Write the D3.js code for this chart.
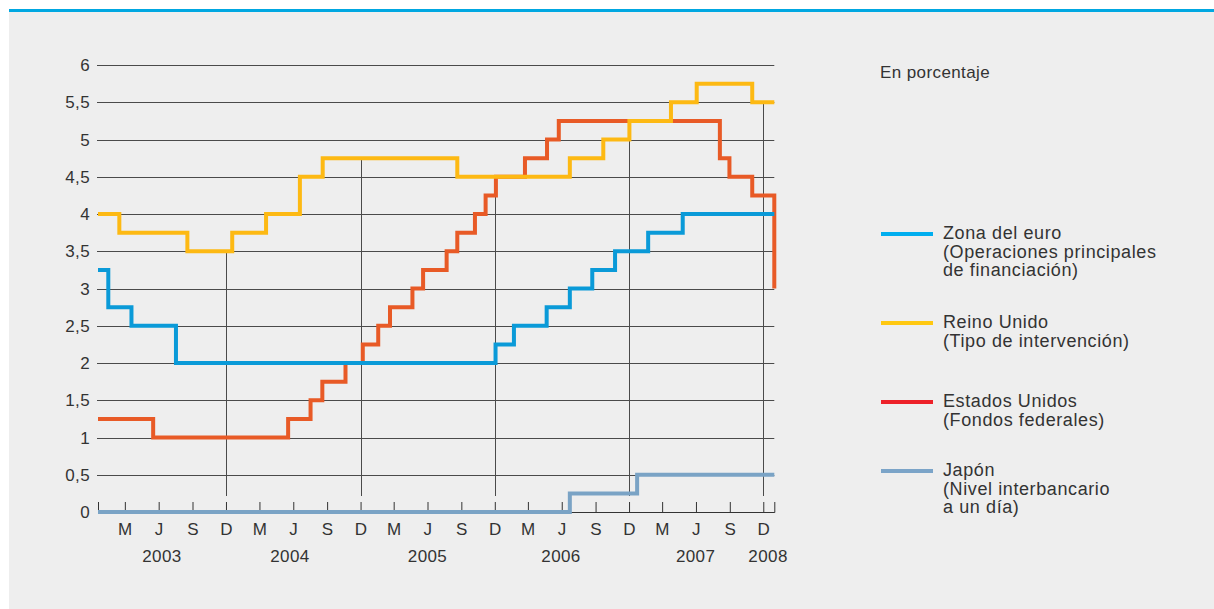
<!DOCTYPE html>
<html>
<head>
<meta charset="utf-8">
<script src="https://cdn.jsdelivr.net/npm/d3@7"></script>
<style>
  body { margin: 0; background: #fff; }
  svg text { font-family: "Liberation Sans", Arial, sans-serif; fill: #333; }
</style>
</head>
<body>
<div id="chart"></div>
<script>
// policy rates, step changes
const euroDates = ["2003-01-01", "2003-01-29", "2003-04-02", "2003-08-01", "2005-12-17", "2006-02-05", "2006-05-05", "2006-07-07", "2006-09-06", "2006-11-07", "2007-02-05", "2007-05-10", "2008-01-14"];
const euroRates = [3.25, 2.75, 2.5, 2.0, 2.25, 2.5, 2.75, 3.0, 3.25, 3.5, 3.75, 4.0, 4.0];

const ukDates = ["2003-01-01", "2003-02-28", "2003-09-01", "2004-01-01", "2004-04-02", "2004-07-03", "2004-09-03", "2005-09-04", "2006-07-07", "2006-10-06", "2006-12-16", "2007-04-08", "2007-06-17", "2007-11-15", "2008-01-14"];
const ukRates = [4.0, 3.75, 3.5, 3.75, 4.0, 4.5, 4.75, 4.5, 4.75, 5.0, 5.25, 5.5, 5.75, 5.5, 5.5];

const usDates = ["2003-01-01", "2003-05-31", "2004-06-01", "2004-08-01", "2004-09-02", "2004-11-04", "2004-12-21", "2005-02-01", "2005-03-05", "2005-05-05", "2005-06-03", "2005-08-06", "2005-09-04", "2005-10-22", "2005-11-20", "2005-12-18", "2006-03-07", "2006-05-06", "2006-06-07", "2007-08-19", "2007-09-14", "2007-11-15", "2008-01-14"];
const usRates = [1.25, 1.0, 1.25, 1.5, 1.75, 2.0, 2.25, 2.5, 2.75, 3.0, 3.25, 3.5, 3.75, 4.0, 4.25, 4.5, 4.75, 5.0, 5.25, 4.75, 4.5, 4.25, 3.0];

const jpDates = ["2003-01-01", "2006-07-07", "2007-01-06", "2008-01-14"];
const jpRates = [0, 0.25, 0.5, 0.5];

const yTicks = [0, 0.5, 1, 1.5, 2, 2.5, 3, 3.5, 4, 4.5, 5, 5.5, 6];
const monthLabels = ["M", "J", "S", "D"];
const tickYears = [2003, 2004, 2005, 2006, 2007];
const yearLabels = ["2003", "2004", "2005", "2006", "2007", "2008"];
const yearLabelDates = ["2003-06-24", "2004-06-06", "2005-06-15", "2006-06-13", "2007-06-14", "2007-12-28"];

const seriesNames = [
    ["Zona del euro", "(Operaciones principales", "de financiación)"],
    ["Reino Unido", "(Tipo de intervención)"],
    ["Estados Unidos", "(Fondos federales)"],
    ["Japón", "(Nivel interbancario", "a un día)"]
];

const parse = d3.timeParse("%Y-%m-%d");
const toPoints = (dates, rates) => dates.map((d, i) => ({ date: parse(d), value: rates[i] }));

const series = [
    { key: "us", points: toPoints(usDates, usRates), color: "#e85a26", legend: "#ed2129", name: seriesNames[2] },
    { key: "uk", points: toPoints(ukDates, ukRates), color: "#fdb913", legend: "#ffc810", name: seriesNames[1] },
    { key: "euro", points: toPoints(euroDates, euroRates), color: "#0a9ad8", legend: "#00aeef", name: seriesNames[0] },
    { key: "jp", points: toPoints(jpDates, jpRates), color: "#7aa3c5", legend: "#7ba4c8", name: seriesNames[3] }
];

const width = 1214, height = 609;
const svg = d3.select("#chart").append("svg")
    .attr("width", width)
    .attr("height", height);

// panel + top stripe
svg.append("rect").attr("x", 9).attr("y", 12).attr("width", width - 9).attr("height", height - 12).attr("fill", "#eeeeee");
svg.append("rect").attr("x", 9).attr("y", 9).attr("width", width - 9).attr("height", 3).attr("fill", "#00a7e1");

const x = d3.scaleTime().domain([parse("2003-01-01"), parse("2008-01-14")]).range([98, 774.3]);
const y = d3.scaleLinear().domain([0, 6]).range([512, 65]);

const fmt = d3.formatLocale({ decimal: ",", thousands: ".", grouping: [3], currency: ["", "€"] }).format("~f");

// horizontal grid
svg.append("g")
    .selectAll("line")
    .data(yTicks.filter(v => v > 0))
    .enter()
    .append("line")
    .attr("x1", x.range()[0] - 1)
    .attr("x2", x.range()[1])
    .attr("y1", d => Math.round(y(d)) + 0.5)
    .attr("y2", d => Math.round(y(d)) + 0.5)
    .attr("stroke", "#4a4a4a")
    .attr("stroke-width", 1);

// y labels
svg.append("g")
    .selectAll("text")
    .data(yTicks)
    .enter()
    .append("text")
    .attr("x", 90)
    .attr("y", d => y(d))
    .attr("dy", "0.36em")
    .attr("text-anchor", "end")
    .style("font-size", "17px")
    .style("letter-spacing", "0.4px")
    .text(d => fmt(d));

// month ticks (mid-month)
const monthTicks = [];
tickYears.forEach(yr => [2, 5, 8, 11].forEach(m => monthTicks.push(new Date(yr, m, 15))));

// value of a step series at a date
const valueAt = (pts, date) => {
    const i = d3.bisectRight(pts.map(p => p.date), date) - 1;
    return pts[Math.max(i, 0)].value;
};

// vertical lines at December, up to the highest curve
const decTicks = monthTicks.filter(d => d.getMonth() === 11);
svg.append("g")
    .selectAll("line")
    .data(decTicks)
    .enter()
    .append("line")
    .attr("x1", d => Math.round(x(d)) + 0.5)
    .attr("x2", d => Math.round(x(d)) + 0.5)
    .attr("y1", y(0) - 16)
    .attr("y2", d => y(d3.max(series, s => valueAt(s.points, d))))
    .attr("stroke", "#4a4a4a")
    .attr("stroke-width", 1);

// x axis
const xAxis = svg.append("g")
    .attr("transform", `translate(0, ${y(0)})`)
    .call(d3.axisBottom(x)
        .tickValues(monthTicks)
        .tickSize(-10)
        .tickPadding(11)
        .tickFormat((d, i) => monthLabels[i % 4]));
xAxis.attr("font-family", null).attr("font-size", null).attr("color", "#333");
xAxis.selectAll("text").style("font-size", "17px").style("letter-spacing", "0.4px");

svg.append("g")
    .selectAll("text")
    .data(yearLabels)
    .enter()
    .append("text")
    .attr("x", (d, i) => x(parse(yearLabelDates[i])))
    .attr("y", 562)
    .attr("text-anchor", "middle")
    .style("font-size", "17px")
    .style("letter-spacing", "0.4px")
    .text(d => d);

// series
const line = d3.line()
    .x(d => x(d.date))
    .y(d => y(d.value))
    .curve(d3.curveStepAfter);

svg.append("g")
    .selectAll("path")
    .data(series)
    .enter()
    .append("path")
    .attr("d", d => line(d.points))
    .attr("fill", "none")
    .attr("stroke", d => d.color)
    .attr("stroke-width", 4)
    .attr("stroke-linejoin", "miter");

// unit note
svg.append("text")
    .attr("x", 880)
    .attr("y", 78)
    .style("font-size", "17px")
    .style("letter-spacing", "0.4px")
    .text("En porcentaje");

// legend
const legendOrder = ["euro", "uk", "us", "jp"];
const legendY = [234, 323, 402, 471];
const legend = svg.append("g")
    .selectAll("g")
    .data(legendOrder.map(k => series.find(s => s.key === k)))
    .enter()
    .append("g")
    .attr("transform", (d, i) => `translate(881, ${legendY[i]})`);

legend.append("line")
    .attr("x1", 0)
    .attr("x2", 52)
    .attr("stroke", d => d.legend)
    .attr("stroke-width", 4);

legend.append("text")
    .attr("x", 62)
    .attr("y", 5)
    .style("font-size", "18px")
    .style("letter-spacing", "0.6px")
    .selectAll("tspan")
    .data(d => d.name)
    .enter()
    .append("tspan")
    .attr("x", 62)
    .attr("dy", (d, i) => i === 0 ? 0 : 18.5)
    .text(d => d);
</script>
</body>
</html>
